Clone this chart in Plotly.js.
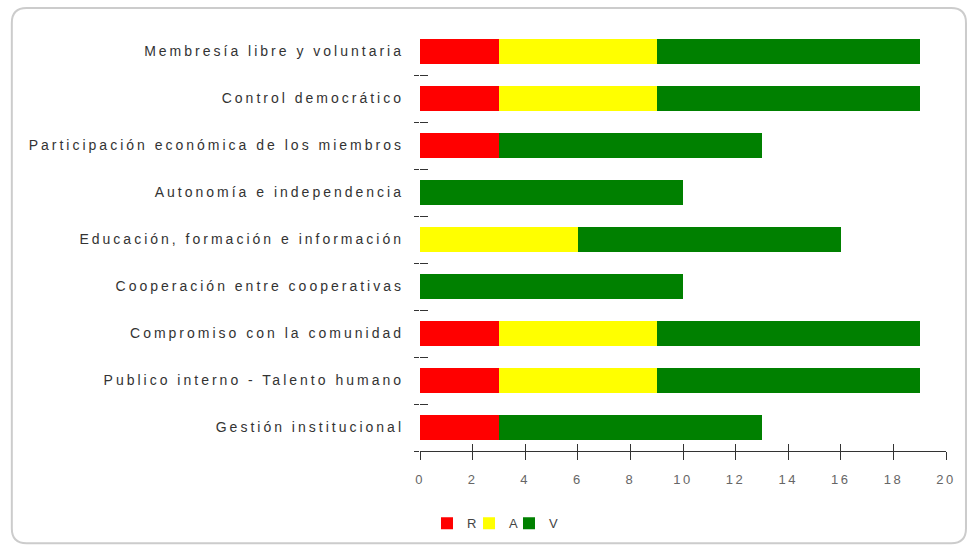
<!DOCTYPE html>
<html>
<head>
<meta charset="utf-8">
<script src="https://cdn.plot.ly/plotly-3.0.1.min.js"></script>
<style>
html,body{margin:0;padding:0;background:#fff;}
#chart{width:969px;height:550px;}
#chart g.ytick text{letter-spacing:3px;}
#chart g.xtick text{letter-spacing:2.5px;}
</style>
</head>
<body>
<div id="chart"></div>
<script>
const categories = [
  "Membresía libre y voluntaria",
  "Control democrático",
  "Participación económica de los miembros",
  "Autonomía e independencia",
  "Educación, formación e información",
  "Cooperación entre cooperativas",
  "Compromiso con la comunidad",
  "Publico interno - Talento humano",
  "Gestión institucional"
];
const valuesR = [3, 3, 3, 0, 0, 0, 3, 3, 3];
const valuesA = [6, 6, 0, 0, 6, 0, 6, 6, 0];
const valuesV = [10, 10, 10, 10, 10, 10, 10, 10, 10];
const seriesNames = ["R", "A", "V"];
const xTicks = [0, 2, 4, 6, 8, 10, 12, 14, 16, 18, 20];

const colors = ["#ff0000", "#ffff00", "#008000"];
const series = [valuesR, valuesA, valuesV];
const legendIds = ["legend", "legend2", "legend3"];

const traces = series.map((vals, i) => ({
  type: "bar",
  orientation: "h",
  name: seriesNames[i],
  legend: legendIds[i],
  y: categories,
  x: vals,
  marker: {color: colors[i], line: {width: 0}},
  hoverinfo: "x+y+name"
}));

// empty helper traces so that the overlay tick axes get drawn
const tickHelpers = [
  {xaxis: "x2", yaxis: "y"},
  {xaxis: "x", yaxis: "y2"},
  {xaxis: "x", yaxis: "y3"}
].map(a => ({
  type: "scatter", mode: "none", x: [], y: [],
  xaxis: a.xaxis, yaxis: a.yaxis,
  showlegend: false, hoverinfo: "skip"
}));

// category boundaries for the small dashes between rows
const nCat = categories.length;
const boundaries = categories.map((_, i) => i + 0.5);

// frame geometry in paper coordinates
const x0 = -0.776, x1 = 1.038, y0 = -0.218, y1 = 1.047, rx = 0.028, ry = 0.035;
const framePath = `M ${x0+rx},${y1} L ${x1-rx},${y1} Q ${x1},${y1} ${x1},${y1-ry} L ${x1},${y0+ry} Q ${x1},${y0} ${x1-rx},${y0} L ${x0+rx},${y0} Q ${x0},${y0} ${x0},${y0+ry} L ${x0},${y1-ry} Q ${x0},${y1} ${x0+rx},${y1} Z`;

function legendBox(x) {
  return {
    orientation: "h",
    x: x, xanchor: "left",
    y: -0.171, yanchor: "middle",
    font: {size: 13, color: "#444"},
    bgcolor: "rgba(0,0,0,0)",
    borderwidth: 0
  };
}

function tickAxis(extra) {
  return Object.assign({
    showticklabels: false,
    showgrid: false,
    zeroline: false,
    showline: false,
    autorange: false,
    tickcolor: "#333",
    fixedrange: true
  }, extra);
}

const layout = {
  width: 969,
  height: 550,
  margin: {l: 420, r: 23, t: 28, b: 96},
  barmode: "stack",
  bargap: 0.45,
  paper_bgcolor: "#ffffff",
  plot_bgcolor: "#ffffff",
  font: {family: "Liberation Sans, Arial, sans-serif", color: "#333"},
  showlegend: true,
  legend: legendBox(0.0133),
  legend2: legendBox(0.0932),
  legend3: legendBox(0.1692),
  xaxis: {
    range: [0, 20],
    autorange: false,
    tickvals: xTicks,
    ticktext: xTicks.map(String),
    showgrid: false,
    zeroline: false,
    showline: true,
    linecolor: "#333",
    linewidth: 1,
    ticks: "outside",
    ticklen: 8,
    tickcolor: "#333",
    ticklabelstandoff: 8,
    tickfont: {size: 13, color: "#666"},
    fixedrange: true
  },
  xaxis2: tickAxis({
    overlaying: "x",
    anchor: "y",
    side: "bottom",
    range: [0, 20],
    tickvals: xTicks,
    ticks: "inside",
    ticklen: 7
  }),
  yaxis: {
    type: "category",
    categoryorder: "array",
    categoryarray: categories,
    range: [nCat - 0.5, -0.5],
    autorange: false,
    showgrid: false,
    zeroline: false,
    showline: false,
    ticks: "",
    ticklabelstandoff: 15,
    tickfont: {size: 14, color: "#333"},
    fixedrange: true
  },
  yaxis2: tickAxis({
    overlaying: "y",
    anchor: "x",
    side: "left",
    range: [nCat - 0.5, -0.5],
    tickvals: boundaries,
    ticks: "outside",
    ticklen: 5
  }),
  yaxis3: tickAxis({
    overlaying: "y",
    anchor: "x",
    side: "left",
    range: [nCat - 0.5, -0.5],
    tickvals: boundaries,
    ticks: "inside",
    ticklen: 8
  }),
  shapes: [{
    type: "path",
    xref: "paper", yref: "paper",
    path: framePath,
    line: {color: "#cccccc", width: 2},
    fillcolor: "rgba(0,0,0,0)",
    layer: "below"
  }]
};

Plotly.newPlot("chart", traces.concat(tickHelpers), layout, {displayModeBar: false, staticPlot: true});
</script>
</body>
</html>
